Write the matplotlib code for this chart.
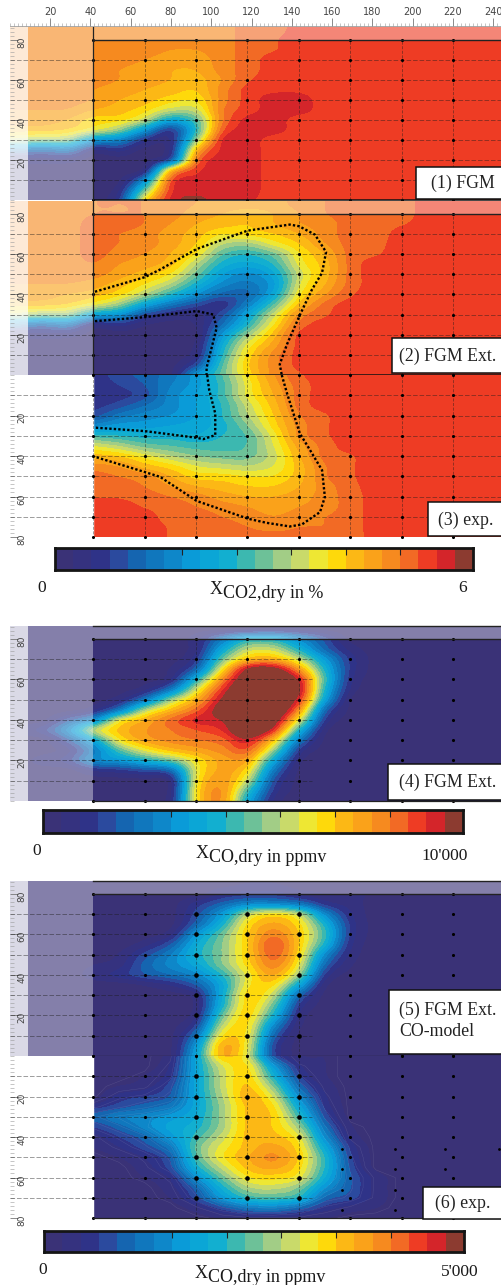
#!/usr/bin/env python3
"""Six contour panels of CO2 and CO mole fractions with their colour bars."""

import numpy as np
import matplotlib
matplotlib.use("Agg")
import matplotlib.pyplot as plt
from matplotlib.colors import ListedColormap, Normalize
from matplotlib.patches import Rectangle
from matplotlib.ticker import MultipleLocator

W, H = 502, 1285
SERIF = "Liberation Serif"

# Band colours
BAND_COLORS = ["#3a3277", "#35327f", "#2f3388", "#2b4a9e", "#1565b0", "#1077bd",
               "#0e87c9", "#0a9bd8", "#0ba6d6", "#12afd0", "#3cb8b0", "#6dc198",
               "#a2cd86", "#c9da6a", "#eee733", "#fed90b", "#fcb815", "#faa21a",
               "#f68a1f", "#f26a25", "#ee3c24", "#d4252a", "#8c3b30"]

# Field tables, in band numbers. Columns every 12.75 mm from x=3.25, rows every 5 mm.
# The tables stop where the field has become constant.
P1 = [
    [18, 18, 18, 18, 18, 18, 18, 18, 18, 19, 19, 20, 20],
    [18, 18, 18, 18, 18, 18, 18, 18, 18, 19, 19.4, 20, 20],
    [18, 18, 18, 18, 18, 18, 17.5, 17.5, 18, 19, 19.4, 20, 20],
    [18, 18, 18, 18, 18, 17.5, 17, 17, 18, 19, 20, 20, 20],
    [18, 18, 18, 18, 17.5, 17, 16.5, 16.5, 18, 19, 20, 20, 20],
    [18, 18, 18, 18, 17.5, 17, 16.5, 16, 17.5, 19.4, 20, 20, 20],
    [18, 18, 18, 17.5, 17, 16.5, 16, 15.5, 18, 20, 20.3, 20.3, 20],
    [18, 18, 18, 17.5, 16.5, 16, 15, 14.5, 18, 20, 21, 21, 20],
    [17.5, 17.5, 17.5, 16.5, 16, 15, 13, 13, 18.5, 20, 21, 21, 20],
    [17, 17, 16.5, 15, 15, 13, 8, 10.5, 18.5, 21, 21, 20, 20],
    [16, 16, 15.5, 14, 12, 7, 2, 9.5, 19.5, 21, 21, 20, 20],
    [13, 12, 12, 7, 6, 2, 1, 12, 21, 21, 20, 20, 20],
    [5, 4, 5, 1, 2, 0, 1, 16.5, 21, 21, 20, 20, 20],
    [1, 1, 1, 0, 0, 0, 3, 19, 21, 21, 20, 20, 20],
    [0, 0, 0, 0, 0, 0.5, 16, 20.3, 21, 21, 20, 20, 20],
    [0, 0, 0, 0, 0, 6, 20, 21, 21, 21, 20, 20, 20],
    [0, 0, 0, 0, 1, 11, 20.5, 21.2, 21, 21, 20, 20, 20],
    [0, 0, 0, 0, 2, 15, 21, 21.8, 21, 20.7, 20, 20, 20],
]
P2 = [
    [18, 18, 18, 18.5, 18.5, 18.5, 18, 17.5, 17, 17, 17, 18, 18.5, 19, 19, 19, 20],
    [18, 18, 18, 18.5, 18.5, 18.5, 18, 17, 16.5, 16, 16.5, 17.5, 18.5, 19, 19, 19, 20],
    [18, 18, 18, 19, 19, 18.5, 17.5, 16.5, 16, 15.5, 16.5, 17.5, 18, 19, 19, 19.4, 20],
    [18, 18, 18, 19, 18.5, 18, 17, 16, 14.5, 15, 15.5, 16.5, 18, 19, 19, 20, 20],
    [18, 18, 18, 19, 18.5, 18, 17, 15.5, 12.5, 12, 14, 15.5, 17.5, 19, 19.2, 20, 20],
    [18, 18, 18, 19, 18, 17.5, 16.5, 14.5, 10.5, 9.5, 11, 14.5, 16.5, 19, 19.4, 20, 20],
    [18, 18, 18, 18.5, 17.5, 17, 16, 12.5, 9, 8, 9.5, 14, 16, 19, 20, 20, 20],
    [18, 18, 18, 18, 17, 16, 14.5, 11, 7.5, 6, 8, 13, 16, 19, 20, 20, 20],
    [17.5, 17.5, 17.5, 17, 16, 14.5, 12.5, 9, 6, 5, 7, 13.5, 16.5, 19, 20, 20, 20],
    [17, 17, 16.5, 16, 15, 12.5, 9.5, 6.5, 4, 4, 8, 14.5, 17.5, 19.4, 20, 20, 20],
    [16, 16, 15.5, 14, 12, 8, 5, 3, 1.5, 5.5, 10.5, 16, 19, 20, 20, 20, 20],
    [13, 12, 12, 8, 7, 3, 1.5, 1, 3, 8, 13, 18, 19.4, 20, 20, 20, 20],
    [5, 4, 5, 1, 2, 0.5, 0, 0.5, 4.5, 9.5, 14.5, 19, 20, 20, 20, 20, 20],
    [1, 1, 1, 0, 0, 0, 0, 0, 7, 12, 16, 20, 20, 20, 20, 20, 20],
    [0, 0, 0, 0, 0, 0, 0, 0.5, 8.5, 14, 17, 20, 20, 20, 20, 20, 20],
    [0, 0, 0, 0, 0, 0, 0, 1, 9.5, 15, 18, 20, 20, 20, 20, 20, 20],
    [0, 0, 0, 0, 0, 0, 0, 3, 10.5, 15.5, 18, 20, 20, 20, 20, 20, 20],
    [0, 0, 0, 0, 0, 0, 0, 7, 11, 15, 18, 19.4, 20, 20, 20, 20, 20],
]
# starts at x=41.5, y=0 on top
P3 = [
    [2, 3, 4, 5, 7, 10.5, 14.5, 17.5, 19.4, 20, 20, 20],
    [2, 2.5, 3.5, 5.5, 7, 10, 14, 17, 19, 20, 20, 20],
    [1.5, 2, 3, 6, 7.5, 10, 14, 16.5, 19, 20, 20, 20],
    [2, 3, 4.5, 6, 7.5, 9.5, 13, 16, 19, 20, 20, 20],
    [3, 5, 6, 6.5, 7.5, 9.5, 12.5, 15.5, 18.5, 19.4, 20, 20],
    [6, 7, 7, 7.5, 8, 9, 11.5, 15, 18, 19.4, 20, 20],
    [10, 9.5, 9, 9, 8.5, 9.5, 10.5, 14, 18, 19.4, 20, 20],
    [13.5, 12.5, 11, 10.5, 10, 10, 10.5, 13.5, 17, 19, 20, 20],
    [16, 15.5, 14, 12.5, 11.5, 11, 11, 13, 16.5, 19, 19.4, 20],
    [18, 17.5, 16, 15, 13.5, 13, 12.5, 13.5, 16, 18.5, 19.4, 20],
    [19, 18.5, 18, 16.5, 15, 15, 14.5, 14.5, 16, 18.5, 19.4, 20],
    [19.4, 19, 18.5, 17.5, 16.5, 16, 15.5, 15.5, 16.5, 18, 19.2, 20],
    [19.4, 19.4, 19, 18.5, 18, 17, 16.5, 16.5, 17, 18, 19, 20],
    [20, 20, 19.4, 19, 18.5, 18, 17.5, 17, 17.5, 18, 19, 20],
    [20, 20, 20, 19, 19, 18.5, 18, 17.5, 18, 18.5, 19, 20],
    [20, 20, 20, 19.4, 19, 19, 18.5, 18, 18.5, 18.5, 19, 20],
    [20, 20, 20, 19.4, 19, 19, 19, 19, 19, 19, 19, 20],
]
P4 = [
    [0, 0, 0, 0, 0, 0, 0, 0, 0, 0, 0.5, 0.5, 0, 0],
    [0, 0, 0, 0, 0, 0, 0, 1, 5, 9, 9, 6, 3, 0],
    [0, 0, 0, 0, 0, 0, 0, 1, 8, 13, 13, 9, 4, 1],
    [0, 0, 0, 0, 0, 0, 0, 2, 11, 16, 16.5, 13, 7, 2],
    [0, 0, 0, 0, 0, 0, 0.5, 4, 14.5, 22.5, 23, 17.5, 9, 2],
    [0, 0, 0, 0, 0, 0, 1, 9, 18, 24, 25, 21.5, 10, 1.5],
    [0, 0, 0, 0, 0, 1, 5, 13.5, 20.5, 25, 25, 22.5, 9, 1],
    [0, 0, 0, 0, 1, 5, 12, 16.5, 22, 25, 25, 21, 7.5, 0],
    [0, 0, 0, 1, 5, 12.5, 16, 19, 23, 25, 25, 18, 4, 0],
    [0, 0, 3, 6, 14, 16.5, 19, 21, 21.5, 25, 23.5, 14, 2, 0],
    [1, 2, 6, 13, 16, 17.5, 18.5, 19.5, 20.5, 24.5, 21, 9, 0.5, 0],
    [0, 0, 3, 8, 14.5, 17, 18, 18.5, 19, 21.5, 16, 5, 0, 0],
    [0, 0, 1, 5, 10.5, 14, 16, 17, 18, 19.5, 12, 2, 0, 0],
    [0, 1, 2, 6, 7, 9, 11, 14.5, 17, 17, 8, 0.5, 0, 0],
    [0, 0, 0, 1.5, 2, 3, 4, 14, 17, 15, 5, 0, 0, 0],
    [0, 0, 0, 0, 0, 0, 0.5, 14.5, 17.5, 13, 3, 0, 0, 0],
    [0, 0, 0, 0, 0, 0, 0.5, 15, 18, 10, 2, 0, 0, 0],
    [0, 0, 0, 0, 0, 0, 1, 15, 18, 8, 1, 0, 0, 0],
]
P5 = [
    [0, 0, 0, 0, 0, 0, 0, 0, 0, 0.5, 0.5, 0, 0, 0, 0],
    [0, 0, 0, 0, 0, 0, 0, 0, 1.5, 2, 2, 1, 0.5, 0.5, 0.5],
    [0, 0, 0, 0, 0, 0, 0, 2, 4, 6, 6, 5, 2, 1, 0],
    [0, 0, 0, 0, 0, 0, 0, 3, 7, 13, 15, 13, 6, 1.5, 0],
    [0, 0, 0, 0, 0, 0, 0, 4, 9, 15, 17, 15, 9, 2, 0],
    [0, 0, 0, 0, 0, 0, 1, 7, 11, 15.5, 18.5, 15.5, 10, 2, 0],
    [0, 0, 0, 0, 0, 1, 3.5, 8.5, 11.5, 15.5, 20, 15.5, 9, 1.5, 0],
    [0, 0, 0, 0, 0.5, 3, 5.5, 9, 11.5, 15.5, 19.5, 15, 6, 1, 0],
    [0, 0, 0, 0.5, 1, 4, 6, 8, 11.5, 15, 18.5, 14, 4, 0.5, 0],
    [0, 0, 0, 1, 2, 3.5, 4.5, 6, 9.5, 14, 17, 12, 2, 0, 0],
    [0, 0, 0, 0, 0, 0.5, 1.5, 3.5, 8, 14.5, 15, 8, 0.5, 0, 0],
    [0, 0, 0, 0, 0, 0, 0, 1, 8.5, 15.5, 13, 4, 0, 0, 0],
    [0, 0, 0, 0, 0, 0, 0, 0.5, 9, 15.5, 11, 2, 0, 0, 0],
    [0, 0, 0, 0, 0, 0, 0, 1, 11, 15.5, 9, 1, 0, 0, 0],
    [0, 0, 0, 0, 0, 0, 0, 2.5, 13, 15, 6, 0.5, 0, 0, 0],
    [0, 0, 0, 0, 0, 0, 0, 5, 15, 14.5, 4, 0, 0, 0, 0],
    [0, 0, 0, 0, 0, 0, 0, 7, 17, 14, 2.5, 0, 0, 0, 0],
    [0, 0, 0, 0, 0, 0, 0, 8, 17, 13.5, 2.5, 0, 0, 0, 0],
]
# starts at x=41.5, y=0 on top
P6 = [
    [0, 0, 0, 1, 8, 16, 13.5, 3, 0.5, 0.5, 0, 0],
    [0, 0, 0, 1.5, 8, 13.5, 15, 7, 1.5, 0.5, 0, 0],
    [0, 0, 0.5, 2, 8, 13, 15.5, 9, 2.5, 0.5, 0, 0],
    [0, 0.5, 1, 3, 8, 13, 16, 11.5, 4, 1, 0, 0],
    [0, 2, 2.5, 3.5, 8, 12.5, 16.5, 13.5, 6, 1.5, 0, 0],
    [2, 3, 4, 5, 8, 12, 16, 15, 8, 2, 0, 0],
    [4, 5.5, 6, 7, 8.5, 12, 16, 15.5, 10, 3, 0, 0],
    [2.5, 4, 6, 8, 9, 12, 16, 15.5, 12, 4.5, 0.5, 0],
    [1, 2.5, 4, 7, 10, 13, 16, 16, 14, 6, 1, 0],
    [0.5, 1.5, 3, 5, 11, 14, 16, 17, 15, 8, 2, 0],
    [0, 0.5, 1.5, 3.5, 10.5, 14.5, 16.5, 18, 15.5, 9.5, 2.5, 0],
    [0, 0, 1, 3, 9, 13, 16, 17, 15, 9.5, 3, 0],
    [0, 0, 0.5, 1.5, 6.5, 11, 14.5, 15, 14, 8.5, 3.5, 1],
    [0, 0, 0, 1, 4, 9, 12.5, 13, 11.5, 6.5, 3.5, 1],
    [0, 0, 0, 0.5, 3, 7, 10, 10.5, 9.5, 4, 3, 1],
    [0, 0, 0, 0, 1, 3, 5, 5.5, 4, 2, 1, 0.5],
    [0, 0, 0, 0, 0, 0.5, 1, 1, 1, 0.5, 0, 0],
]

# Measuring grid in mm
GRID_X = [41.5, 67, 92.5, 118, 143.5, 169, 194.5, 220]
GRID_Y = [10, 20, 30, 40, 50, 60, 70]

# Dotted outlines in panels 2 and 3
OUTER2_X = [42.3, 67, 74.6, 92.8, 118, 139, 143.6, 151.5, 157, 155, 150, 144.1, 137.6, 134, 135]
OUTER2_Y = [41.3, 48.5, 52.3, 62.5, 71.6, 74.6, 73.8, 69.6, 61, 50.7, 42.4, 30, 15.2, 5.3, 0]
INNER2_X = [42.3, 67, 92.8, 101, 102.7, 97.7, 97.7]
INNER2_Y = [26.7, 28.7, 31.7, 30, 23.4, 3.6, 0]
OUTER3_X = [135, 137.6, 144, 149, 155, 156.4, 154, 145, 139, 127.5, 118.4, 92.8, 74.6, 67, 42.3]
OUTER3_Y = [0, 9, 28.9, 37, 47, 60.2, 67.7, 73.8, 74.8, 73, 71, 62.2, 50.3, 47.9, 40.4]
INNER3_X = [98, 99, 102, 102, 96, 92.8, 67, 42.3]
INNER3_Y = [0, 7.4, 19, 29.7, 31.7, 31, 27.7, 26]

# Second set of sampling points in panel 6
EXTRA6_X = [164.7, 164.7, 164.7, 164.7, 191, 191, 191, 191, 216, 216, 243]
EXTRA6_Y = [46, 56, 66, 76, 46, 56, 66, 76, 46, 56, 46]

BAR_TICKS = [7, 10, 13, 16, 19]
TOP_TICKS = list(range(20, 241, 20))

cmap = ListedColormap(BAND_COLORS)
norm = Normalize(-0.5, len(BAND_COLORS) - 0.5)

fig = plt.figure(figsize=(W / 100, H / 100), dpi=100)


def px_axes(left, top, right, bottom):
    return fig.add_axes([left / W, 1 - bottom / H, (right - left) / W, (bottom - top) / H])


def fx(x):
    return x / W


def fy(y):
    return 1 - y / H


def field(table, fill, pad_left=0):
    z = np.array(table, dtype=float)
    z = np.pad(z, ((0, 0), (pad_left, 0)), mode="edge")
    return np.pad(z, ((0, 0), (0, 20 - z.shape[1])), mode="constant", constant_values=fill)


def draw_panel(ax, table, fill, flipped=False, xmax_lines=245, vlines=GRID_X, big=False):
    z = field(table, fill, 3 if flipped else 0)
    ext = (-3.125, 251.875, 82.5, -2.5) if flipped else (-3.125, 251.875, -2.5, 87.5)
    ax.imshow(z, cmap=cmap, norm=norm, interpolation="mitchell",
              interpolation_stage="data", extent=ext, aspect="auto", origin="upper")
    top = 80 if flipped else 86.3
    ax.set_xlim(0, 244.3)
    ax.set_ylim((80, 0) if flipped else (0, top))

    if flipped:
        ax.add_patch(Rectangle((0, 0), 41.5, 80, color="white", zorder=2))
    else:
        ax.axvspan(0, 9.1, color="white", alpha=0.82, lw=0, zorder=2)
        ax.axvspan(9.1, 41.5, color="white", alpha=0.38, lw=0, zorder=2)
        ax.axhspan(80, top, xmin=41.5 / 244.3, color="white", alpha=0.38, lw=0, zorder=2)

    # measuring grid
    for y in GRID_Y:
        ax.plot([0, xmax_lines], [y, y], color="#1c1c1c", lw=0.55, dashes=(6, 2.5),
                alpha=0.55, zorder=3)
    for x in vlines:
        ax.plot([x, x], [0, 80], color="#1c1c1c", lw=0.55, dashes=(4, 2),
                alpha=0.55, zorder=3)
    xs, ys = np.meshgrid(GRID_X, GRID_Y + [0, 80])
    ax.scatter(xs.ravel(), ys.ravel(), s=5, color="black", lw=0, zorder=4, clip_on=False)
    if big:
        bx, by = np.meshgrid(GRID_X[2:5], GRID_Y)
        ax.scatter(bx.ravel(), by.ravel(), s=11, color="black", lw=0, zorder=4)

    # rulers
    for s in ax.spines.values():
        s.set_visible(False)
    ax.set_axisbelow(False)
    ax.set_xticks([])
    ax.yaxis.set_major_locator(MultipleLocator(20))
    ax.yaxis.set_minor_locator(MultipleLocator(2))
    ax.tick_params(axis="y", which="major", direction="in", length=6, width=0.6,
                   color="#777777", labelcolor="#444444", labelsize=6.5,
                   labelrotation=90, pad=-12)
    ax.tick_params(axis="y", which="minor", direction="in", length=3, width=0.4, color="#999999")
    ax.set_yticks([20, 40, 60, 80])


INNER_X = GRID_X[2:5]

# panels top down
ax1 = px_axes(9.7, 27, W, 200)
draw_panel(ax1, P1, 20)
ax2 = px_axes(9.7, 201, W, 375)
draw_panel(ax2, P2, 20)
ax3 = px_axes(9.7, 375, W, 537)
draw_panel(ax3, P3, 20, flipped=True)
ax4 = px_axes(9.7, 626, W, 801)
draw_panel(ax4, P4, 0, xmax_lines=150, vlines=INNER_X)
ax5 = px_axes(9.7, 881, W, 1056)
draw_panel(ax5, P5, 0, xmax_lines=150, vlines=INNER_X, big=True)
ax6 = px_axes(9.7, 1056, W, 1218)
draw_panel(ax6, P6, 0, flipped=True, xmax_lines=150, vlines=INNER_X, big=True)

# heavier frame lines
for ax in (ax1, ax2):
    ax.plot([41.5, 245], [80, 80], color="#222222", lw=1.0, zorder=4)
    ax.plot([41.5, 245], [0, 0], color="#111111", lw=1.1, zorder=4, clip_on=False)
    ax.plot([41.5, 41.5], [0, 86.3], color="#222222", lw=0.9, zorder=4)
for ax in (ax4, ax5):
    ax.plot([41.5, 245], [80, 80], color="#222222", lw=1.0, zorder=4)
    ax.plot([41.5, 245], [86.3, 86.3], color="#222222", lw=1.0, zorder=4, clip_on=False)
    ax.plot([41.5, 245], [0, 0], color="#222222", lw=0.9, zorder=4, clip_on=False)
ax6.plot([41.5, 245], [80, 80], color="#222222", lw=0.9, zorder=4, clip_on=False)

# dotted outlines
for ax, xs, ys in ((ax2, OUTER2_X, OUTER2_Y), (ax2, INNER2_X, INNER2_Y),
                   (ax3, OUTER3_X, OUTER3_Y), (ax3, INNER3_X, INNER3_Y)):
    ax.plot(xs, ys, color="black", lw=1.7, dashes=(1.0, 0.9), zorder=5)

# faint contour lines of the measured CO field
z6 = field(P6, 0, 3)
ax6.contour(np.linspace(3.25, 245.5, 20), np.arange(0, 81, 5), z6,
            levels=np.arange(0.25, 7, 1), colors="white", linewidths=0.3, alpha=0.14, zorder=1.5)
ax6.scatter(EXTRA6_X, EXTRA6_Y, s=4, color="black", lw=0, zorder=4)

# top mm ruler
top = px_axes(9.7, 26, W, 27)
top.set_xlim(0, 244.3)
top.set_ylim(0, 1)
top.patch.set_visible(False)
for name, s in top.spines.items():
    s.set_visible(name == "top")
    s.set_color("#888888")
    s.set_linewidth(0.5)
top.set_yticks([])
top.xaxis.tick_top()
top.set_xticks(TOP_TICKS)
top.xaxis.set_minor_locator(MultipleLocator(2))
top.tick_params(axis="x", which="major", length=6, width=0.6, color="#777777",
                labelcolor="#444444", labelsize=7, pad=0.5)
top.tick_params(axis="x", which="minor", length=2.5, width=0.4, color="#999999")


def colorbar(left, top_px, right, bottom):
    ax = px_axes(left, top_px, right, bottom)
    ax.imshow(np.arange(len(BAND_COLORS))[None, :], cmap=cmap, norm=norm, aspect="auto",
              interpolation="nearest", extent=(0, len(BAND_COLORS), 0, 1))
    ax.set_yticks([])
    ax.set_xticks(BAR_TICKS)
    ax.tick_params(axis="x", direction="in", top=True, bottom=False, labelbottom=False,
                   length=5, width=0.8, color="#222222")
    for s in ax.spines.values():
        s.set_linewidth(2.0)
        s.set_color("#151515")
    return ax


colorbar(55, 548, 473, 570)
colorbar(43, 810, 463, 833)
colorbar(44, 1231, 464, 1252)


def bar_label(x_px, y_px, rest):
    fig.text(fx(x_px), fy(y_px - 3), "X", family=SERIF, fontsize=13, ha="left", va="center",
             color="#1a1a1a")
    fig.text(fx(x_px + 13), fy(y_px), rest, family=SERIF, fontsize=13, ha="left", va="center",
             color="#1a1a1a")


for x, y, s in ((42, 588, "0"), (463, 588, "6"), (37, 851, "0"), (445, 856, "10'000"),
                (43, 1270, "0"), (460, 1272, "5'000")):
    fig.text(fx(x), fy(y), s, family=SERIF, fontsize=12.5, ha="center", va="center", color="#1a1a1a")

bar_label(210, 593, "CO2,dry in %")
bar_label(196, 857, "CO,dry in ppmv")
bar_label(195, 1277, "CO,dry in ppmv")

# panel name boxes
BOXES = [(416, 167, 199), (392, 338, 373), (428, 502, 536),
         (388, 764, 800), (389, 990, 1054), (423, 1187, 1219)]
for left, top_px, bottom in BOXES:
    fig.add_artist(Rectangle((fx(left), fy(bottom)), (W + 5 - left) / W, (bottom - top_px) / H,
                             transform=fig.transFigure, facecolor="white", edgecolor="#111111",
                             lw=1.1, zorder=10))

NAMES = [("(1) FGM", 463, 183, "center"), ("(2) FGM Ext.", 448, 356, "center"),
         ("(3) exp.", 466, 520, "center"), ("(4) FGM Ext.", 448, 782, "center"),
         ("(5) FGM Ext.", 399, 1010, "left"), ("CO-model", 399, 1032, "left"),
         ("(6) exp.", 463, 1203, "center")]
for s, x, y, ha in NAMES:
    fig.text(fx(x), fy(y), s, family=SERIF, fontsize=12.8, ha=ha, va="center",
             color="#222222", zorder=11)

fig.savefig("out.png", dpi=100)
